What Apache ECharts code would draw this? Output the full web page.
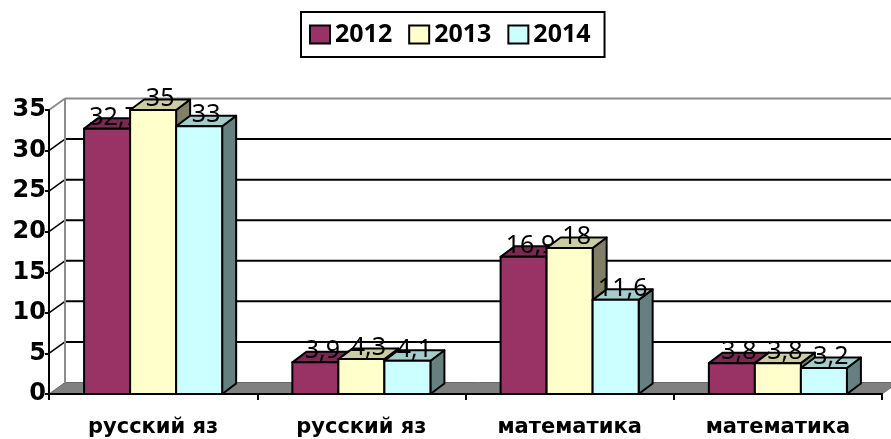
<!DOCTYPE html>
<html>
<head>
<meta charset="utf-8">
<script src="https://cdn.jsdelivr.net/npm/echarts@6/dist/echarts.min.js"></script>
<style>html,body{margin:0;padding:0;background:#fff}#c{width:891px;height:439px}</style>
</head>
<body>
<div id="c"></div>
<script>
const categories = ['русский яз', 'русский яз', 'математика', 'математика'];
const seriesNames = ['2012', '2013', '2014'];
const s2012 = [32.7, 3.9, 16.9, 3.8];
const s2013 = [35, 4.3, 18, 3.8];
const s2014 = [33, 4.1, 11.6, 3.2];
const yTicks = [0, 5, 10, 15, 20, 25, 30, 35];

const frontColors = ['#993366', '#FFFFCC', '#CCFFFF'];
const topColors = ['#7a2952', '#cccca3', '#a3cccc'];
const sideColors = ['#4d1a33', '#808066', '#668080'];

const WDX = 16, WDY = -11.5;   // wall depth
const BDX = 14, BDY = -10.5;   // bar depth
const BAR_FRAC = 0.221;

function fmt(v) { return String(v).replace('.', ','); }

function barRender(idx) {
  return function (params, api) {
    const ci = api.value(0), v = api.value(1);
    const base = api.coord([ci, 0]);
    const tp = api.coord([ci, v]);
    const cw = api.size([1, 0])[0];
    const bw = cw * BAR_FRAC;
    const xl = base[0] - 1.5 * bw + idx * bw;
    const xr = xl + bw;
    const y0 = base[1], y1 = tp[1];
    const st = { stroke: '#000', lineWidth: 2, lineJoin: 'round' };
    return {
      type: 'group',
      children: [
        { type: 'polygon', shape: { points: [[xr, y1], [xr + BDX, y1 + BDY], [xr + BDX, y0 + BDY], [xr, y0]] },
          style: Object.assign({ fill: sideColors[idx] }, st) },
        { type: 'polygon', shape: { points: [[xl, y1], [xl + BDX, y1 + BDY], [xr + BDX, y1 + BDY], [xr, y1]] },
          style: Object.assign({ fill: topColors[idx] }, st) },
        { type: 'rect', shape: { x: xl, y: y1, width: bw, height: y0 - y1 },
          style: Object.assign({ fill: frontColors[idx] }, st) },
        { type: 'text', x: (xl + xr) / 2 + 7, y: y1 - 11,
          style: { text: fmt(v), fill: '#000', fontSize: 25, fontFamily: 'Noto Sans', fontWeight: 'normal', align: 'center', verticalAlign: 'middle' } }
      ]
    };
  };
}

function frameRender(params, api) {
  const cs = params.coordSys;
  const x0 = cs.x, x1 = cs.x + cs.width;
  const yb = api.coord([0, yTicks[0]])[1];
  const yt = api.coord([0, yTicks[yTicks.length - 1]])[1];
  const children = [];
  children.push({ type: 'polygon', shape: { points: [[x0, yb], [x0 + WDX, yb + WDY], [x1 + WDX, yb + WDY], [x1, yb]] },
    style: { fill: '#808080', stroke: '#6a6a6a', lineWidth: 1 } });
  for (let i = 1; i < yTicks.length - 1; i++) {
    const y = api.coord([0, yTicks[i]])[1];
    children.push({ type: 'line', shape: { x1: x0 + WDX, y1: y + WDY, x2: x1 + WDX, y2: y + WDY }, style: { stroke: '#000', lineWidth: 2 } });
    children.push({ type: 'line', shape: { x1: x0, y1: y, x2: x0 + WDX, y2: y + WDY }, style: { stroke: '#000', lineWidth: 1.5 } });
  }
  children.push({ type: 'line', shape: { x1: x0 + WDX, y1: yt + WDY, x2: x0 + WDX, y2: yb + WDY }, style: { stroke: '#8c8c8c', lineWidth: 2 } });
  children.push({ type: 'line', shape: { x1: x0 + WDX, y1: yt + WDY, x2: x1 + WDX, y2: yt + WDY }, style: { stroke: '#8c8c8c', lineWidth: 2 } });
  children.push({ type: 'line', shape: { x1: x0, y1: yt, x2: x0 + WDX, y2: yt + WDY }, style: { stroke: '#8c8c8c', lineWidth: 2 } });
  return { type: 'group', children: children };
}

const chart = echarts.init(document.getElementById('c'), null, { renderer: 'canvas' });
const allSeries = [s2012, s2013, s2014];
const series = [{
  name: 'frame', type: 'custom', z: -1, silent: true, clip: false,
  renderItem: frameRender, data: [[0, 0]], encode: { x: 0, y: 1 }
}];
allSeries.forEach((arr, idx) => {
  series.push({
    name: seriesNames[idx], type: 'custom', z: 2 + idx, clip: false,
    itemStyle: { color: frontColors[idx] },
    renderItem: barRender(idx),
    encode: { x: 0, y: 1 },
    data: arr.map((v, i) => [i, v])
  });
});

chart.setOption({
  animation: false,
  backgroundColor: '#fff',
  legend: {
    data: seriesNames, left: 301, top: 12, icon: 'rect',
    itemWidth: 20, itemHeight: 18, itemGap: 16,
    padding: [10, 14, 10, 8],
    borderColor: '#000', borderWidth: 2,
    itemStyle: { borderColor: '#000', borderWidth: 2 },
    textStyle: { fontFamily: 'Open Sans', fontWeight: 'bold', fontSize: 25, color: '#000' }
  },
  grid: { left: 49, right: 9, top: 110, bottom: 45 },
  xAxis: {
    type: 'category', data: categories,
    axisLine: { lineStyle: { color: '#000', width: 2 } },
    axisTick: { show: true, length: 6, lineStyle: { color: '#000', width: 2 } },
    axisLabel: { margin: 23, color: '#000', fontFamily: 'DejaVu Sans', fontWeight: 'bold', fontSize: 21 }
  },
  yAxis: {
    type: 'value', min: 0, max: 35, interval: 5,
    splitLine: { show: false },
    axisLine: { show: true, lineStyle: { color: '#000', width: 2 } },
    axisTick: { show: true, length: 4, lineStyle: { color: '#000', width: 2 } },
    axisLabel: { margin: 3, color: '#000', fontFamily: 'DejaVu Sans', fontWeight: 'bold', fontSize: 24 }
  },
  series: series
});
</script>
</body>
</html>
